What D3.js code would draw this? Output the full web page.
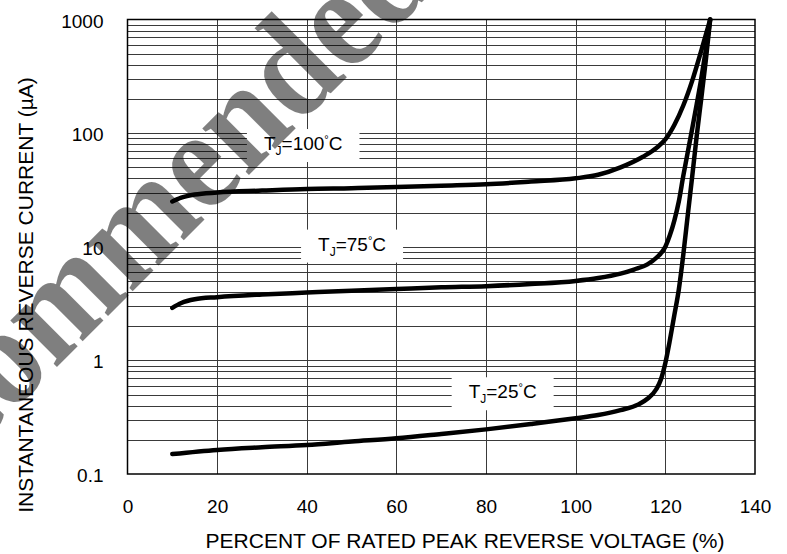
<!DOCTYPE html>
<html>
<head>
<meta charset="utf-8">
<script src="https://cdn.jsdelivr.net/npm/d3@7"></script>
<style>
  body { margin: 0; background: #fff; }
</style>
</head>
<body>
<script>
// tick labels
var xTicks = [0, 20, 40, 60, 80, 100, 120, 140];
var yTicks = [0.1, 1, 10, 100, 1000];
var xGrid = [20, 40, 60, 80, 100, 120];

// curves: [percent, current µA]
var tj100 = [[10, 25], [12, 27], [15, 28.8], [20, 30], [30, 31.2], [40, 32.3], [50, 32.8],
  [60, 33.5], [70, 34.5], [80, 35.5], [90, 37.5], [100, 40], [105, 43], [110, 50],
  [115, 62], [118, 74], [120, 88], [122, 118], [124, 175], [126, 290], [128, 530],
  [130, 1000]];
var tj75 = [[10, 2.9], [12, 3.2], [15, 3.45], [20, 3.6], [30, 3.8], [40, 3.95], [50, 4.1],
  [60, 4.25], [70, 4.4], [80, 4.5], [90, 4.7], [100, 5.0], [105, 5.3], [110, 5.8],
  [113, 6.3], [116, 7.0], [118, 8.0], [120, 10], [121, 12.6], [122, 17], [123, 25],
  [124, 42], [125, 68], [126, 110], [127, 180], [128, 300], [129, 530], [130, 1000]];
var tj25 = [[10, 0.15], [20, 0.163], [30, 0.172], [40, 0.18], [50, 0.193], [60, 0.206],
  [70, 0.225], [80, 0.247], [90, 0.275], [100, 0.309], [105, 0.33], [110, 0.365],
  [114, 0.41], [116, 0.46], [118, 0.56], [119, 0.68], [120, 0.95], [121, 1.5],
  [122, 2.5], [123, 4.2], [124, 8.5], [125, 19], [126, 42], [127, 95], [128, 200],
  [129, 430], [130, 1000]];

// curve labels: temperature, x value, y value of the baseline
var labelTemps = ["100", "75", "25"];
var labelX = [39.2, 50.1, 83.7];
var labelY = [71, 9.25, 0.464];

var W = 787, H = 554;
var pLeft = 127.5, pRight = 755, pTop = 19.5, pBottom = 474;
var sans = "'Liberation Sans', Arial, sans-serif";

var svg = d3.select("body").append("svg")
    .attr("width", W)
    .attr("height", H)
    .style("font-family", sans);

var x = d3.scaleLinear().domain([0, 140]).range([pLeft, pRight]);
var y = d3.scaleLog().domain([0.1, 1000]).range([pBottom, pTop]);

// minor + major horizontal grid
var hGrid = [];
[0.1, 1, 10, 100].forEach(function(d) {
  for (var k = 1; k <= 9; k++) hGrid.push(d * k);
});
hGrid = hGrid.filter(function(v) { return v > 0.1 && v < 1000; });

var grid = svg.append("g");
grid.selectAll(".hg")
    .data(hGrid)
    .enter().append("line")
    .attr("x1", pLeft).attr("x2", pRight)
    .attr("y1", function(d) { return Math.round(y(d)) + 0.5; })
    .attr("y2", function(d) { return Math.round(y(d)) + 0.5; })
    .attr("stroke", "#3a3a3a")
    .attr("stroke-width", 1);

grid.selectAll(".vg")
    .data(xGrid)
    .enter().append("line")
    .attr("x1", function(d) { return Math.round(x(d)) + 0.5; })
    .attr("x2", function(d) { return Math.round(x(d)) + 0.5; })
    .attr("y1", pTop).attr("y2", pBottom)
    .attr("stroke", "#3a3a3a")
    .attr("stroke-width", 1);

// label boxes (white) and texts
var labels = svg.append("g");
labelTemps.forEach(function(t, i) {
  var g = labels.append("g");
  var txt = g.append("text")
      .attr("x", x(labelX[i]))
      .attr("y", y(labelY[i]))
      .attr("text-anchor", "middle")
      .attr("font-size", "19px")
      .attr("fill", "#000");
  txt.append("tspan").text("T");
  txt.append("tspan").attr("font-size", "12px").attr("dy", 5).text("J");
  txt.append("tspan").attr("dy", -5).text("=" + t);
  txt.append("tspan").attr("font-size", "11px").attr("dy", -7).text("°");
  txt.append("tspan").attr("dy", 7).text("C");
  var bb = txt.node().getBBox();
  g.insert("rect", "text")
      .attr("x", bb.x - 17)
      .attr("y", bb.y - 4)
      .attr("width", bb.width + 34)
      .attr("height", bb.height + 8)
      .attr("fill", "#fff");
});

// frame
svg.append("rect")
    .attr("x", pLeft).attr("y", pTop)
    .attr("width", pRight - pLeft).attr("height", pBottom - pTop)
    .attr("fill", "none")
    .attr("stroke", "#000")
    .attr("stroke-width", 1.5);

// curves
var line = d3.line()
    .x(function(d) { return x(d[0]); })
    .y(function(d) { return y(d[1]); })
    .curve(d3.curveMonotoneX);

svg.selectAll(".curve")
    .data([tj100, tj75, tj25])
    .enter().append("path")
    .attr("class", "curve")
    .attr("d", line)
    .attr("fill", "none")
    .attr("stroke", "#000")
    .attr("stroke-width", 4.5)
    .attr("stroke-linecap", "round")
    .attr("stroke-linejoin", "round");

// axes
var xAxis = d3.axisBottom(x).tickValues(xTicks).tickSize(0).tickPadding(26)
    .tickFormat(d3.format("d"));
var yAxis = d3.axisLeft(y).tickValues(yTicks).tickSize(0).tickPadding(24)
    .tickFormat(function(d) { return d < 1 ? d3.format(".1f")(d) : d3.format("d")(d); });

var gx = svg.append("g")
    .attr("transform", "translate(0," + pBottom + ")")
    .call(xAxis);
var gy = svg.append("g")
    .attr("transform", "translate(" + pLeft + ",0)")
    .call(yAxis);
[gx, gy].forEach(function(g) {
  g.select(".domain").remove();
  g.attr("font-family", null).attr("font-size", null);
  g.selectAll("text")
    .style("font-family", sans)
    .style("font-size", "19px")
    .attr("fill", "#000");
});
gy.selectAll("text").attr("dy", "0.4em");

svg.append("text")
    .attr("x", 465)
    .attr("y", 548)
    .attr("text-anchor", "middle")
    .attr("font-size", "21px")
    .text("PERCENT OF RATED PEAK REVERSE VOLTAGE (%)");

svg.append("text")
    .attr("transform", "translate(33,295) rotate(-90)")
    .attr("text-anchor", "middle")
    .attr("font-size", "21px")
    .text("INSTANTANEOUS REVERSE CURRENT (µA)");

// watermark
svg.append("text")
    .attr("transform", "translate(-302,726) rotate(-45) scale(0.94,1.05)")
    .style("font-family", "'Liberation Serif', 'Times New Roman', serif")
    .style("font-weight", "bold")
    .style("font-size", "137px")
    .attr("fill", "#000")
    .attr("fill-opacity", 0.5)
    .text("Not Recommended");
</script>
</body>
</html>
